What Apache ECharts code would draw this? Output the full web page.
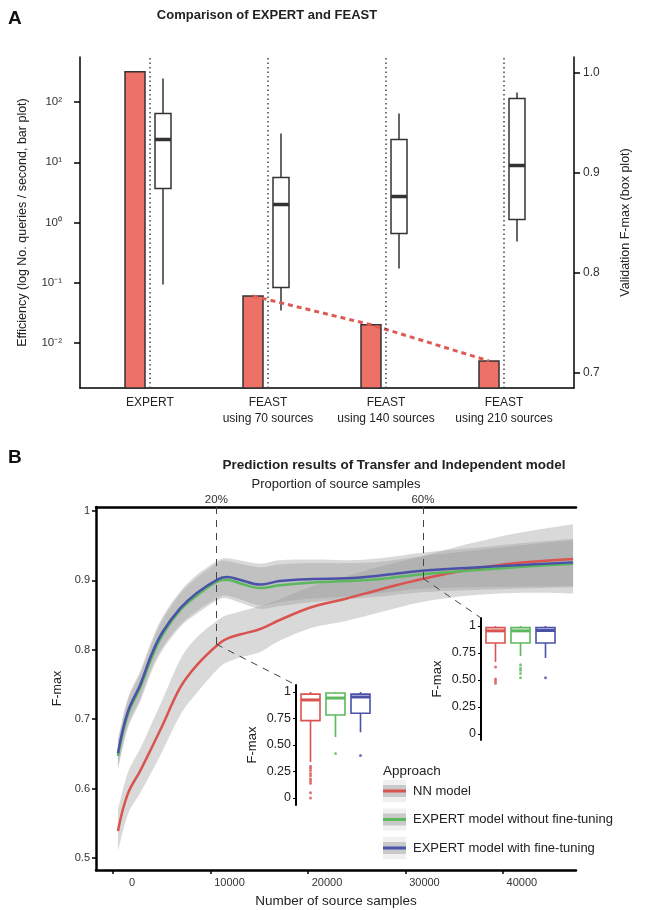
<!DOCTYPE html>
<html>
<head>
<meta charset="utf-8">
<style>html,body{margin:0;padding:0;background:#fff}#chart{width:650px;height:910px}</style>
<script src="https://cdn.jsdelivr.net/npm/echarts@6/dist/echarts.min.js"></script>
</head>
<body>
<div id="chart"></div>
<script>
// ---- panel A: EXPERT vs FEAST
const methods = ['EXPERT', 'FEAST\nusing 70 sources', 'FEAST\nusing 140 sources', 'FEAST\nusing 210 sources'];
const efficiency = [320, 0.06, 0.02, 0.005];
// [low, q1, median, q3, high]
const validFmax = [
  [0.788, 0.884, 0.933, 0.959, 0.994],
  [0.762, 0.785, 0.868, 0.895, 0.939],
  [0.804, 0.839, 0.876, 0.933, 0.959],
  [0.831, 0.853, 0.907, 0.974, 0.980]
];
const effTicks = [0.01, 0.1, 1, 10, 100];
const fmaxTicksA = [0.7, 0.8, 0.9, 1.0];

// ---- panel B: transfer vs independent
const samples = [500, 1500, 2800, 4000, 5100, 6900, 8600, 10800, 11700, 13000, 15100, 17100, 20500, 24000, 27400, 31700, 36300, 41400, 47200];
const nnMean = [0.539, 0.592, 0.626, 0.660, 0.692, 0.746, 0.778, 0.808, 0.816, 0.822, 0.830, 0.843, 0.862, 0.874, 0.887, 0.902, 0.915, 0.925, 0.931];
const nnSe   = [0.030, 0.030, 0.032, 0.035, 0.037, 0.040, 0.040, 0.035, 0.034, 0.033, 0.033, 0.030, 0.030, 0.032, 0.033, 0.033, 0.037, 0.043, 0.050];
const woMean = [0.647, 0.706, 0.746, 0.790, 0.822, 0.857, 0.878, 0.899, 0.901, 0.896, 0.889, 0.893, 0.897, 0.899, 0.902, 0.909, 0.914, 0.919, 0.924];
const woSe   = [0.020, 0.020, 0.020, 0.020, 0.022, 0.024, 0.026, 0.027, 0.027, 0.028, 0.030, 0.030, 0.028, 0.026, 0.025, 0.026, 0.028, 0.031, 0.034];
const wMean  = [0.651, 0.710, 0.750, 0.795, 0.826, 0.860, 0.882, 0.902, 0.905, 0.901, 0.894, 0.899, 0.902, 0.903, 0.907, 0.914, 0.918, 0.922, 0.926];
const wSe    = [0.020, 0.020, 0.020, 0.020, 0.022, 0.024, 0.026, 0.027, 0.027, 0.028, 0.030, 0.030, 0.028, 0.026, 0.025, 0.026, 0.028, 0.031, 0.034];
const sampleTicks = [0, 10000, 20000, 30000, 40000];
const fmaxTicksB = [0.5, 0.6, 0.7, 0.8, 0.9, 1];
const totalSamples = 53000;
const zoomProps = [0.2, 0.6];
const zoomAt = [0.808, 0.903];

const approaches = ['NN model', 'EXPERT model without fine-tuning', 'EXPERT model with fine-tuning'];
const colors = ['#d9534f', '#5cb85c', '#4a52a8'];
const inset20Box = [[0.34, 0.73, 0.925, 0.98, 1.0], [0.575, 0.783, 0.943, 0.99, 1.0], [0.62, 0.80, 0.953, 0.98, 1.0]];
const inset20Out = [[0.30, 0.28, 0.26, 0.23, 0.21, 0.18, 0.16, 0.14, 0.05, 0.0], [0.42], [0.40]];
const inset60Box = [[0.667, 0.843, 0.955, 0.985, 1.0], [0.722, 0.843, 0.955, 0.985, 1.0], [0.704, 0.843, 0.958, 0.985, 1.0]];
const inset60Out = [[0.62, 0.51, 0.49, 0.47], [0.64, 0.61, 0.59, 0.56, 0.52], [0.52]];
const insetTicks = [0, 0.25, 0.5, 0.75, 1];

const FONT = '"Liberation Sans", Arial, Helvetica, sans-serif';
const BAR_SHIFT = -15 / 118;
const inset1 = { left: 296, top: 685 };
const inset2 = { left: 481, top: 618 };

const sup = { '-': '\u207b', '0': '\u2070', '1': '\u00b9', '2': '\u00b2' };
const powLabel = v => '10' + String(Math.round(Math.log10(v))).split('').map(c => sup[c]).join('');

function boxRender(shift, halfW, colorOf, lw, medW, fill) {
  return function (params, api) {
    const x = api.value(0);
    const p = k => api.coord([x, api.value(k)]);
    const lo = p(1), q1 = p(2), md = p(3), q3 = p(4), hi = p(5);
    const cx = lo[0] + shift;
    const col = colorOf(params.dataIndex);
    return {
      type: 'group', children: [
        { type: 'line', shape: { x1: cx, y1: hi[1], x2: cx, y2: q3[1] }, style: { stroke: col, lineWidth: lw } },
        { type: 'line', shape: { x1: cx, y1: q1[1], x2: cx, y2: lo[1] }, style: { stroke: col, lineWidth: lw } },
        { type: 'rect', shape: { x: cx - halfW, y: q3[1], width: halfW * 2, height: q1[1] - q3[1] }, style: { fill: fill, stroke: col, lineWidth: lw } },
        { type: 'line', shape: { x1: cx - halfW, y1: md[1], x2: cx + halfW, y2: md[1] }, style: { stroke: col, lineWidth: medW } }
      ]
    };
  };
}

// catmull-rom segments through pixel points (curve only, no moveTo)
function curveSegs(pts) {
  let d = '';
  for (let i = 0; i < pts.length - 1; i++) {
    const p0 = pts[i - 1] || pts[i], p1 = pts[i], p2 = pts[i + 1], p3 = pts[i + 2] || p2;
    const c1 = [p1[0] + (p2[0] - p0[0]) / 6, p1[1] + (p2[1] - p0[1]) / 6];
    const c2 = [p2[0] - (p3[0] - p1[0]) / 6, p2[1] - (p3[1] - p1[1]) / 6];
    d += ' C' + c1[0] + ',' + c1[1] + ' ' + c2[0] + ',' + c2[1] + ' ' + p2[0] + ',' + p2[1];
  }
  return d;
}

// confidence band as a closed smoothed path through the axis scales
function band(mean, se) {
  return {
    type: 'custom', xAxisIndex: 1, yAxisIndex: 2, silent: true, z: 1, clip: true,
    encode: { x: 0, y: 1 },
    data: [[samples[0], mean[0]]],
    renderItem: (params, api) => {
      const up = samples.map((s, i) => api.coord([s, mean[i] + se[i]]));
      const lo = samples.map((s, i) => api.coord([s, mean[i] - se[i]])).reverse();
      const d = 'M' + up[0][0] + ',' + up[0][1] + curveSegs(up) +
        ' L' + lo[0][0] + ',' + lo[0][1] + curveSegs(lo) + ' Z';
      return { type: 'path', shape: { pathData: d }, style: { fill: 'rgba(153,153,153,0.37)' } };
    }
  };
}

const insetAxisY = (grid, r) => ({
  type: 'value', gridIndex: grid, min: r.min, max: r.max,
  axisLine: { show: true, onZero: false, lineStyle: { color: '#000', width: 2 } },
  axisTick: { show: true, length: 3, customValues: insetTicks, lineStyle: { color: '#000' } },
  splitLine: { show: false },
  axisLabel: { customValues: insetTicks, fontSize: 12.5, color: '#222', fontFamily: FONT, margin: 5,
    formatter: v => (v === 0 ? '0' : v === 1 ? '1' : v.toFixed(2)) },
  name: 'F-max', nameLocation: 'middle', nameGap: 37, nameTextStyle: { fontSize: 13, color: '#222', fontFamily: FONT }
});

const insetSeries = (xi, yi, box, out) => [
  { type: 'custom', xAxisIndex: xi, yAxisIndex: yi, z: 5,
    renderItem: boxRender(0, 9.5, i => colors[i], 1.6, 3, 'rgba(255,255,255,0.7)'),
    encode: { x: 0, y: [1, 2, 3, 4, 5] },
    data: box.map((b, i) => [i + 1].concat(b)), itemStyle: { opacity: 0.8 } },
  { type: 'scatter', xAxisIndex: xi, yAxisIndex: yi, symbolSize: 3, z: 5,
    data: out.flatMap((vals, i) => vals.map(v => ({ value: [i + 1, v], itemStyle: { color: colors[i] } }))) }
];

const legendKeys = approaches.map((a, k) => {
  const cy = 791 + k * 28.5;
  return { type: 'group', children: [
    { type: 'rect', shape: { x: 383, y: cy - 11, width: 23, height: 22 }, style: { fill: '#f0f0f0' } },
    { type: 'rect', shape: { x: 383, y: cy - 6, width: 23, height: 12 }, style: { fill: '#c9c9c9' } },
    { type: 'line', shape: { x1: 383, y1: cy, x2: 406, y2: cy }, style: { stroke: colors[k], lineWidth: 3 } },
    { type: 'text', x: 413, y: cy, style: { text: a, font: '13px ' + FONT, fill: '#222', verticalAlign: 'middle' } }
  ] };
});

const chart = echarts.init(document.getElementById('chart'));
chart.setOption({
  animation: false,
  backgroundColor: '#fff',
  textStyle: { fontFamily: FONT },
  grid: [
    { left: 80, right: 76, top: 57, height: 331 },
    { left: 96, right: 74, top: 507, height: 363 },
    { left: inset1.left, top: inset1.top, width: 80, height: 120 },
    { left: inset2.left, top: inset2.top, width: 80, height: 122 }
  ],
  xAxis: [
    { type: 'value', gridIndex: 0, min: -70 / 118, max: 3 + 70 / 118,
      axisLine: { onZero: false, lineStyle: { color: '#000', width: 1.5 } },
      axisTick: { show: false }, splitLine: { show: false },
      axisLabel: { customValues: [0, 1, 2, 3], formatter: v => methods[Math.round(v)], fontSize: 12, lineHeight: 16, color: '#222', margin: 7 } },
    { type: 'value', gridIndex: 1, position: 'bottom', min: -1750, max: 47500,
      axisLine: { onZero: false, lineStyle: { color: '#000', width: 2.5 } },
      axisTick: { customValues: sampleTicks, length: 4, lineStyle: { color: '#000', width: 1.5 } },
      splitLine: { show: false },
      axisLabel: { customValues: sampleTicks, formatter: v => String(v), fontSize: 11, color: '#333', margin: 7, padding: [0, 0, 0, 38] },
      name: 'Number of source samples', nameLocation: 'middle', nameGap: 24, nameTextStyle: { fontSize: 13.5, color: '#222' } },
    { type: 'value', gridIndex: 1, position: 'top', min: -1750, max: 47500,
      axisLine: { onZero: false, lineStyle: { color: '#000', width: 2.5 } },
      axisTick: { show: false }, splitLine: { show: false },
      axisLabel: { customValues: zoomProps.map(p => p * totalSamples), formatter: v => Math.round(v / totalSamples * 100) + '%', fontSize: 11.5, color: '#333', margin: 1 },
      name: 'Proportion of source samples', nameLocation: 'middle', nameGap: 16, nameTextStyle: { fontSize: 13, color: '#222' } },
    { type: 'value', gridIndex: 2, min: 0.42, max: 3.62, show: false },
    { type: 'value', gridIndex: 3, min: 0.42, max: 3.62, show: false }
  ],
  yAxis: [
    { type: 'log', gridIndex: 0, position: 'left', min: Math.pow(10, -2.75), max: Math.pow(10, 2.75),
      axisLine: { show: true, onZero: false, lineStyle: { color: '#000', width: 1.5 } },
      axisTick: { show: true, customValues: effTicks, length: 6, lineStyle: { color: '#000', width: 1.5 } },
      splitLine: { show: false }, minorTick: { show: false },
      axisLabel: { customValues: effTicks, formatter: powLabel, fontSize: 11.5, color: '#333', margin: 18 },
      name: 'Efficiency (log No. queries / second, bar plot)', nameLocation: 'middle', nameGap: 51,
      nameTextStyle: { fontSize: 12.5, color: '#222' } },
    { type: 'value', gridIndex: 0, position: 'right', min: 0.6845, max: 1.0155,
      axisLine: { show: true, onZero: false, lineStyle: { color: '#000', width: 1.5 } },
      axisTick: { show: true, customValues: fmaxTicksA, length: 6, lineStyle: { color: '#000', width: 1.5 } },
      splitLine: { show: false },
      axisLabel: { customValues: fmaxTicksA, formatter: v => v.toFixed(1), fontSize: 12, color: '#333', margin: 9 },
      name: 'Validation F-max (box plot)', nameLocation: 'middle', nameGap: 45,
      nameTextStyle: { fontSize: 12.5, color: '#222' } },
    { type: 'value', gridIndex: 1, min: 0.4827, max: 1.0058,
      axisLine: { show: true, onZero: false, lineStyle: { color: '#000', width: 2.5 } },
      axisTick: { show: true, customValues: fmaxTicksB, length: 4, lineStyle: { color: '#000', width: 1.5 } },
      splitLine: { show: false },
      axisLabel: { customValues: fmaxTicksB, formatter: v => (v === 1 ? '1' : v.toFixed(1)), fontSize: 11, color: '#333', margin: 6 },
      name: 'F-max', nameLocation: 'middle', nameGap: 30, nameTextStyle: { fontSize: 12.5, color: '#222' } },
    insetAxisY(2, { min: -0.066, max: 1.066 }),
    insetAxisY(3, { min: -0.056, max: 1.074 })
  ],
  series: [
    // panel A bars
    { type: 'custom', xAxisIndex: 0, yAxisIndex: 0, z: 3,
      encode: { x: 0, y: 1 },
      data: efficiency.map((v, i) => [i, v]),
      renderItem: (params, api) => {
        const top = api.coord([api.value(0), api.value(1)]);
        const base = api.coord([api.value(0), Math.pow(10, -2.75)]);
        return { type: 'rect', shape: { x: top[0] - 25, y: top[1], width: 20, height: base[1] - top[1] },
          style: { fill: '#ee7168', stroke: '#333', lineWidth: 1.5 } };
      },
      markLine: { silent: true, symbol: 'none', label: { show: false },
        lineStyle: { type: [1.5, 3], color: '#444', width: 1.5 },
        data: methods.map((m, i) => ({ xAxis: i })) } },
    { type: 'line', xAxisIndex: 0, yAxisIndex: 0, z: 4, symbol: 'none',
      data: efficiency.slice(1).map((v, i) => [i + 1 + BAR_SHIFT, v]),
      lineStyle: { color: '#dc5b55', width: 3, type: [5, 4] } },
    // panel A boxes
    { type: 'custom', xAxisIndex: 0, yAxisIndex: 1, z: 3,
      encode: { x: 0, y: [1, 2, 3, 4, 5] },
      data: validFmax.map((b, i) => [i].concat(b)),
      renderItem: boxRender(13, 8, () => '#333', 1.5, 3.5, '#fff') },
    // panel B bands
    band(nnMean, nnSe),
    band(woMean, woSe),
    band(wMean, wSe),
    { type: 'line', name: approaches[0], xAxisIndex: 1, yAxisIndex: 2, symbol: 'none', smooth: 0.4, z: 3,
      data: samples.map((s, i) => [s, nnMean[i]]), lineStyle: { color: colors[0], width: 2.5 },
      markLine: { silent: true, symbol: 'none', label: { show: false },
        lineStyle: { type: [7, 6], color: '#444', width: 1 },
        data: [
          [{ coord: [zoomProps[0] * totalSamples, 1.0058] }, { coord: [zoomProps[0] * totalSamples, zoomAt[0]] }],
          [{ coord: [zoomProps[0] * totalSamples, zoomAt[0]] }, { x: inset1.left, y: inset1.top }],
          [{ coord: [zoomProps[1] * totalSamples, 1.0058] }, { coord: [zoomProps[1] * totalSamples, zoomAt[1]] }],
          [{ coord: [zoomProps[1] * totalSamples, zoomAt[1]] }, { x: inset2.left, y: inset2.top }]
        ] } },
    { type: 'line', name: approaches[1], xAxisIndex: 1, yAxisIndex: 2, symbol: 'none', smooth: 0.4, z: 3,
      data: samples.map((s, i) => [s, woMean[i]]), lineStyle: { color: colors[1], width: 2.5 } },
    { type: 'line', name: approaches[2], xAxisIndex: 1, yAxisIndex: 2, symbol: 'none', smooth: 0.4, z: 3,
      data: samples.map((s, i) => [s, wMean[i]]), lineStyle: { color: colors[2], width: 2.5 } },
    ...insetSeries(3, 3, inset20Box, inset20Out),
    ...insetSeries(4, 4, inset60Box, inset60Out)
  ],
  graphic: [
    { type: 'text', x: 8, y: 19, style: { text: 'A', font: 'bold 19px ' + FONT, fill: '#111', verticalAlign: 'middle' } },
    { type: 'text', x: 267, y: 15, style: { text: 'Comparison of EXPERT and FEAST', font: 'bold 13px ' + FONT, fill: '#222', align: 'center', verticalAlign: 'middle' } },
    { type: 'text', x: 8, y: 458, style: { text: 'B', font: 'bold 19px ' + FONT, fill: '#111', verticalAlign: 'middle' } },
    { type: 'text', x: 394, y: 465, style: { text: 'Prediction results of Transfer and Independent model', font: 'bold 13.5px ' + FONT, fill: '#222', align: 'center', verticalAlign: 'middle' } },
    { type: 'text', x: 383, y: 771, style: { text: 'Approach', font: '13.5px ' + FONT, fill: '#222', verticalAlign: 'middle' } },
    ...legendKeys
  ]
});
</script>
</body>
</html>
